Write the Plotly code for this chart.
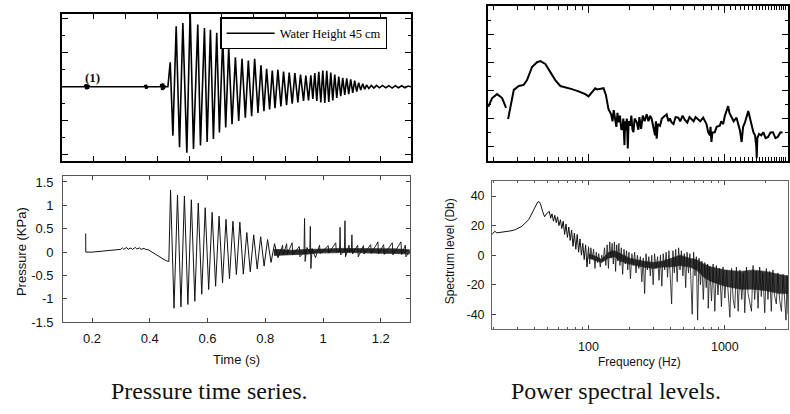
import plotly.graph_objects as go

# ---------------- DATA ----------------
# Top-left: scanned pressure record (time in its own units, amplitude in tick units)
tl_t = [0.0, 0.070, 0.073, 0.075, 0.077, 0.079, 0.081, 0.083, 0.085, 0.088,
        0.258, 0.261, 0.263, 0.265, 0.267, 0.270,
        0.308, 0.311, 0.313, 0.315, 0.317, 0.319, 0.321, 0.323, 0.326,
        0.3323, 0.3396, 0.348, 0.3583, 0.3688, 0.3792, 0.3917, 0.4021, 0.4125, 0.426,
        0.4344, 0.4469, 0.4552, 0.4656, 0.475, 0.4854, 0.4938, 0.5042, 0.5135, 0.5229,
        0.5333, 0.5438, 0.5542, 0.5646, 0.575, 0.5844, 0.5948, 0.6042, 0.6146, 0.624,
        0.6333, 0.6417, 0.651, 0.6594, 0.668, 0.6771, 0.6865, 0.6948, 0.7042, 0.7125,
        0.7219, 0.7302, 0.7396, 0.7479, 0.7573, 0.7646, 0.7729, 0.7802, 0.7865, 0.7927,
        0.799, 0.8052, 0.8115, 0.8177, 0.824, 0.8302, 0.8365, 0.8427, 0.849, 0.8552,
        0.8615, 0.8677, 0.874, 0.8802, 0.8865, 0.8927, 0.899, 0.9052, 0.9115, 0.9177,
        0.924, 0.9302, 0.9365, 0.9427, 0.949, 0.955, 0.962, 0.970, 0.978, 0.986,
        0.995, 1.005, 1.015, 1.025, 1.035, 1.045, 1.055, 1.065, 1.075, 1.085, 1.094]
tl_v = [0.0, 0.0, 0.06, -0.07, 0.08, -0.08, 0.07, -0.06, 0.04, 0.0,
        0.0, 0.05, -0.06, 0.06, -0.05, 0.0,
        0.0, 0.08, -0.09, 0.10, -0.10, 0.09, -0.07, 0.03, 0.0,
        0.0, 0.72, -1.44, 1.78, -1.78, 1.875, -1.94, 2.25, -1.83, 1.83,
        -1.73, 1.73, -1.63, 1.68, -1.54, 1.59, -1.35, 1.44, -1.20, 1.15,
        -1.10, 0.87, -1.01, 0.82, -0.91, 0.77, -0.87, 0.82, -0.77, 0.63,
        -0.72, 0.53, -0.67, 0.48, -0.63, 0.50, -0.58, 0.45, -0.54, 0.42,
        -0.50, 0.40, -0.46, 0.36, -0.42, 0.33, -0.40, 0.34, -0.36, 0.40,
        -0.42, 0.44, -0.46, 0.48, -0.48, 0.47, -0.45, 0.42, -0.40, 0.36,
        -0.33, 0.30, -0.28, 0.26, -0.24, 0.25, -0.22, 0.22, -0.18, 0.18,
        -0.14, 0.12, -0.10, 0.09, -0.07, 0.05, -0.05, 0.04, -0.04, 0.04,
        -0.03, 0.04, -0.03, 0.03, -0.04, 0.03, -0.03, 0.03, -0.03, 0.02, 0.0]
legend_label = "Water Height 45 cm"
marker_label = "(1)"

# Bottom-left: pressure time series (s, KPa)
bl_t = [0.178, 0.1785, 0.20, 0.22, 0.25, 0.28, 0.30, 0.305, 0.31, 0.32, 0.325, 0.335,
        0.34, 0.35, 0.355, 0.365, 0.37, 0.38, 0.385, 0.395, 0.40, 0.41, 0.42, 0.43,
        0.44, 0.45, 0.46, 0.466,
        0.472, 0.484, 0.496, 0.508, 0.520, 0.532, 0.544, 0.556, 0.568, 0.580,
        0.592, 0.604, 0.616, 0.628, 0.640, 0.652, 0.664, 0.676, 0.688, 0.700,
        0.712, 0.724, 0.736, 0.748, 0.760, 0.772, 0.784, 0.796, 0.808, 0.820,
        0.832, 0.844, 0.856]
bl_p = [0.40, 0.0, 0.0, 0.01, 0.03, 0.05, 0.06, 0.09, 0.06, 0.10, 0.06, 0.09,
        0.06, 0.10, 0.07, 0.09, 0.06, 0.08, 0.06, 0.05, 0.03, 0.0, -0.04, -0.08,
        -0.12, -0.16, -0.19, -0.20,
        1.33, -1.20, 1.22, -1.17, 1.20, -1.12, 1.12, -1.05, 1.05, -0.90,
        0.95, -0.80, 0.85, -0.73, 0.77, -0.66, 0.70, -0.57, 0.66, -0.48,
        0.64, -0.47, 0.42, -0.42, 0.37, -0.36, 0.33, -0.30, 0.27, -0.22,
        0.18, -0.12, 0.08]
# dense noise band after the decay (s, KPa)
bl_band_t = [0.83, 0.86, 0.89, 0.92, 0.95, 0.98, 1.02, 1.06, 1.10, 1.15, 1.20, 1.25, 1.30]
bl_band_hi = [0.06, 0.05, 0.04, 0.05, 0.06, 0.06, 0.07, 0.08, 0.08, 0.07, 0.07, 0.07, 0.05]
bl_band_lo = [-0.07, -0.06, -0.05, -0.05, -0.04, -0.02, -0.01, -0.01, -0.01, -0.02, -0.02, -0.03, -0.04]
# spikes in the tail (s, KPa)
bl_spk_t = [0.856, 0.860, 0.862, 0.874, 0.876, 0.893, 0.895, 0.918, 0.920, 0.934, 0.936,
            0.938, 0.944, 0.954, 0.956, 0.958, 0.962, 0.974, 0.988, 0.990, 1.018, 1.020,
            1.044, 1.046, 1.057, 1.059, 1.061, 1.074, 1.076, 1.078, 1.090, 1.092, 1.098,
            1.100, 1.102, 1.120, 1.122, 1.140, 1.142, 1.165, 1.167, 1.190, 1.192, 1.210,
            1.212, 1.240, 1.242, 1.270, 1.272, 1.285, 1.287, 1.300]
bl_spk_p = [0.06, 0.15, -0.06, 0.18, -0.05, 0.20, -0.06, 0.12, -0.10, 0.00, 0.72,
            -0.20, 0.10, 0.00, 0.55, -0.35, 0.08, -0.12, 0.15, -0.03, 0.14, -0.02,
            0.20, 0.00, 0.02, 0.53, -0.06, 0.03, 0.67, -0.10, 0.15, 0.00, 0.03,
            0.37, -0.04, 0.15, -0.10, 0.14, -0.04, 0.16, -0.03, 0.22, -0.04, 0.16,
            -0.05, 0.20, -0.06, 0.22, -0.05, 0.15, -0.10, 0.03]

# Top-right: smoothed spectrum (Hz, level in tick units); None = gap in curve
tr_f = [18.35, 19.63, 21.35, 23.23, 24.84, None,
        25.7, 26.7, 28.3, 30.8, 33.4, 35.4, 38.5, 41.9, 44.3, 48.2, 52.4, 57.0, 62.1, 67.5,
        75.5, 84.5, 94.5, 100, 105.8, 111.9, 116, 121.7, 128.8, 133.9, 140.1, 146.5,
        150, 153, 156.6, 160, 163, 165.8, 170, 174, 177.3, 180, 183.4, 185.5, 187.6, 191,
        194.0, 197, 201.8, 206, 210, 213.5, 218, 225.9, 232, 236, 243, 250, 258, 267, 275,
        283, 290.6, 298, 307.4, 312, 316, 322, 334.6, 345, 360, 374, 385, 395, 406.6, 420,
        435, 455, 470, 490, 509, 530, 550, 570, 590, 610, 637, 660, 693, 715, 733, 755,
        775, 785, 797, 810, 843, 870, 917, 940, 971, 1000, 1030, 1057, 1080, 1118, 1160,
        1217, 1260, 1290, 1327, 1360, 1404, 1440, 1485, 1530, 1573, 1620, 1664, 1700,
        1712, 1730, 1782, 1850, 1913, 1990, 2075, 2160, 2251, 2350, 2442, 2550, 2650]
tr_v = [-25.8, -22.7, -21.3, -22.7, -26.2, None,
        -30.2, -25.6, -19.8, -18.4, -18.0, -16.3, -11.6, -9.9, -9.5, -10.5, -13.4, -16.3,
        -18.4, -18.8, -19.5, -20.3, -21.3, -22.1, -20.7, -19.2, -19.6, -19.5, -19.2, -21.5,
        -26.7, -28.5,
        -31, -27, -29.7, -33, -28, -31.4, -29, -34, -33.7, -30, -39.5, -31, -34.3, -30,
        -40.7, -31, -32.6, -29, -34, -34.9, -30, -31.4, -34, -29.5, -33.7, -29, -31, -28.5,
        -31, -29, -30.2, -33, -36.0, -31, -37.2, -32, -32.6, -30, -29, -28.5, -31, -30,
        -31.4, -32, -29.5, -29.7, -31, -29, -30.5, -31.5, -29.5, -30.2, -31, -29.5, -30.2,
        -31, -29.7, -31, -32.0, -35, -36.0, -33, -38.4, -35, -34.9, -33, -32.6, -31, -32.0,
        -29, -27, -25.6, -28, -29.7, -31, -29.7, -32, -34.3, -38.4, -33, -31.4, -29, -27.3,
        -30, -32.6, -35, -36.0, -40, -44.2, -37, -35.5, -36, -34.9, -37, -36.6, -35, -34.9,
        -37, -36.6, -35, -34.9]

# Bottom-right: spectrum level (Hz, Db)
br_f = [19.6, 20.5, 21.3, 24.5, 27.0, 29.1, 32.5, 36.4, 39.6, 42.4, 43.5, 44.3, 46.1,
        47.6, 49.5, 51.6, 52.8, 54.0, 55.3, 56.6, 58.0, 59.3, 60.7, 62.2, 63.7, 65.2,
        66.8, 68.4, 70.0, 71.7, 73.4, 75.2, 77.0, 78.8, 80.7, 82.6, 84.6, 86.6, 88.7,
        90.8, 93.0, 95.2, 97.5, 100]
br_db = [14.0, 16.2, 15.1, 15.8, 16.5, 17.3, 19.6, 24.0, 30.7, 36.0, 36.2, 35.1, 29.6,
         26.0, 28.4, 29.6, 25.0, 28.0, 23.0, 27.0, 22.0, 26.0, 20.0, 24.0, 18.0, 23.0,
         14.0, 21.0, 12.0, 19.0, 10.0, 17.0, 6.0, 15.0, 4.0, 14.0, 2.0, 11.0, 0.0,
         8.0, -3.0, 7.0, -8.0, 5.0]
# dense core of the noisy part (Hz, upper and lower Db)
br_band_f = [100, 115, 125, 140, 155, 170, 200, 250, 300, 350, 400, 470, 550, 620, 700,
             800, 1000, 1300, 1600, 2000, 2500, 2904]
br_band_hi = [1, -1, -3, 2, 3, 1, -2, -4, -5, -4, -2, 0, -2, -3, -6, -8, -10, -11, -10, -11, -13, -14]
br_band_lo = [-2, -4, -5, -2, -1, -4, -6, -8, -9, -8, -8, -7, -8, -10, -15, -18, -21, -23,
              -23, -24, -26, -26]
# individual spikes of the noisy part (Hz, Db)
br_spk_f = [100, 102, 104, 106.5, 109, 111.5, 114, 116.5, 119, 122, 125, 128, 131, 134,
            137, 140, 143, 146, 149, 152, 155, 158, 161, 164, 167, 170, 174, 178, 182, 186,
            190, 194, 198, 203, 208, 213, 218, 223, 228, 234, 240, 246, 252, 258, 264, 270,
            277, 284, 291, 298, 305, 313, 321, 329, 337, 345, 353, 362, 371, 380, 389, 398,
            407, 416, 426, 436, 447, 458, 469, 480, 492, 504, 516, 528, 541, 554, 567, 576,
            590, 604, 618, 631, 646, 662, 678, 695, 712, 730, 748, 755, 775, 798, 820, 844,
            866, 890, 915, 944, 970, 1000, 1030, 1060, 1088, 1120, 1150, 1181, 1215, 1252,
            1290, 1330, 1370, 1399, 1440, 1480, 1520, 1567, 1610, 1655, 1700, 1752, 1800,
            1850, 1900, 1960, 2015, 2070, 2130, 2191, 2250, 2310, 2383, 2450, 2520, 2600,
            2670, 2740, 2809, 2860, 2904]
br_spk_db = [6, -6, 5, -2, 4, -9, 2, -5, 1, -8, 0, -4, 5, -7,
             7, -9, 9, -2, 8, -6, 9, -11, 7, -4, 8, -7, 5, -13, 4, -6,
             3, -10, 2, -16, 1, -7, 2, -12, 0, -9, -1, -18, -2, -26, 1, -10,
             -1, -14, 0, -20, 1, -9, -1, -17, 0, -21, 1, -10, 2, -15, 3, -22,
             -33, 3, -12, 4, -18, 5, -10, 3, -14, 1, -22, 2, -12, 1, -18, -40,
             2, -14, -1, -44, -2, -20, -4, -30, -5, -22, -6, -36, -8, -31, -6, -38,
             -7, -27, -9, -35, -8, -29, -10, -27, -42, -9, -30, -36, -8, -38,
             -10, -30, -12, -39, -8, -26, -32, -38, -7, -30, -11, -36, -8,
             -28, -12, -39, -9, -30, -11, -38, -10, -27, -33, -12, -30, -38,
             -13, -28, -44, -14, -40]

bl_xticks = [0.2, 0.4, 0.6, 0.8, 1.0, 1.2]
bl_xtext = ["0.2", "0.4", "0.6", "0.8", "1", "1.2"]
bl_yticks = [-1.5, -1.0, -0.5, 0.0, 0.5, 1.0, 1.5]
bl_ytext = ["-1.5", "-1", "-0.5", "0", "0.5", "1", "1.5"]
br_xticks = [100, 1000]
br_xtext = ["100", "1000"]
br_yticks = [-40, -20, 0, 20, 40]
br_ytext = ["-40", "-20", "0", "20", "40"]
log_minor = [20, 30, 40, 50, 60, 70, 80, 90, 200, 300, 400, 500, 600, 700, 800, 900, 2000]
tr_minor = [20, 30, 40, 50, 60, 70, 80, 90, 200, 300, 400, 500, 600, 700, 800, 900,
            1100, 1200, 1300, 1400, 1500, 1600, 1700, 1800, 1900, 2000, 2100, 2200,
            2300, 2400, 2500, 2600, 2700, 2800]

# ---------------- FIGURE ----------------
W, H = 790, 414
def fx(p):
    return p / W
def fy(p):
    return 1 - p / H

SANS = "Liberation Sans, Arial, sans-serif"
SERIF = "Liberation Serif, Times New Roman, serif"
INK = "#111111"

fig = go.Figure()

fig.add_trace(go.Scatter(x=tl_t, y=tl_v, xaxis="x", yaxis="y", mode="lines",
                         line=dict(color="black", width=1.6), name=legend_label,
                         showlegend=True))

fig.add_trace(go.Scatter(x=bl_band_t + bl_band_t[::-1], y=bl_band_hi + bl_band_lo[::-1],
                         xaxis="x2", yaxis="y2", mode="lines", fill="toself",
                         fillcolor="#2a2a2a", line=dict(color="#333", width=0.8),
                         showlegend=False, hoverinfo="skip"))
fig.add_trace(go.Scatter(x=bl_t, y=bl_p, xaxis="x2", yaxis="y2", mode="lines",
                         line=dict(color=INK, width=1), showlegend=False))
fig.add_trace(go.Scatter(x=bl_spk_t, y=bl_spk_p, xaxis="x2", yaxis="y2", mode="lines",
                         line=dict(color=INK, width=0.9), showlegend=False))

fig.add_trace(go.Scatter(x=tr_f, y=tr_v, xaxis="x3", yaxis="y3", mode="lines",
                         line=dict(color="black", width=2), connectgaps=False,
                         showlegend=False))

fig.add_trace(go.Scatter(x=br_band_f + br_band_f[::-1], y=br_band_hi + br_band_lo[::-1],
                         xaxis="x4", yaxis="y4", mode="lines", fill="toself",
                         fillcolor="#3a3a3a", line=dict(color="#3a3a3a", width=0.6),
                         showlegend=False, hoverinfo="skip"))
fig.add_trace(go.Scatter(x=br_f, y=br_db, xaxis="x4", yaxis="y4", mode="lines",
                         line=dict(color=INK, width=1), showlegend=False))
fig.add_trace(go.Scatter(x=br_spk_f, y=br_spk_db, xaxis="x4", yaxis="y4", mode="lines",
                         line=dict(color=INK, width=0.8), showlegend=False))

common = dict(showgrid=False, zeroline=False, showline=True, ticks="inside")

fig.update_layout(
    width=W, height=H, margin=dict(l=0, r=0, t=0, b=0),
    paper_bgcolor="white", plot_bgcolor="white",
    showlegend=True,
    legend=dict(x=fx(221), y=fy(15.7), xanchor="left", yanchor="top",
                bordercolor="black", borderwidth=1.2, bgcolor="white",
                font=dict(family=SERIF, size=12.5, color="black"),
                itemwidth=48),
    # top-left
    xaxis=dict(domain=[fx(62), fx(412)], anchor="y", range=[0, 1.094], tick0=0, dtick=0.1,
               ticklen=5, tickwidth=1.3, tickcolor="black", linecolor="black", linewidth=1.6,
               mirror="ticks", showticklabels=False, **common),
    yaxis=dict(domain=[fy(162.3), fy(12)], anchor="x", range=[-2.18, 2.15], tick0=0, dtick=1,
               ticklen=6, tickwidth=1.3, tickcolor="black", linecolor="black", linewidth=1.6,
               mirror="ticks", showticklabels=False,
               minor=dict(dtick=0.5, ticklen=3, ticks="inside", tickcolor="black", tickwidth=1.2),
               **common),
    # bottom-left
    xaxis2=dict(domain=[fx(63.3), fx(410.7)], anchor="y2", range=[0.1, 1.3],
                tickmode="array", tickvals=bl_xticks, ticktext=bl_xtext,
                ticklen=4, tickcolor="#444", linecolor="#555", linewidth=1, mirror="ticks",
                ticklabelstandoff=4,
                tickfont=dict(family=SANS, size=13, color=INK), **common),
    yaxis2=dict(domain=[fy(327.5), fy(178.3)], anchor="x2", range=[-1.502, 1.619],
                tickmode="array", tickvals=bl_yticks, ticktext=bl_ytext,
                ticklen=4, tickcolor="#444", linecolor="#555", linewidth=1, mirror="ticks",
                ticklabelstandoff=6,
                tickfont=dict(family=SANS, size=13, color=INK), **common),
    # top-right
    xaxis3=dict(domain=[fx(489.3), 1.0], anchor="y3", type="log", range=[1.263, 3.463],
                tickmode="array", tickvals=br_xticks, ticklen=7, tickwidth=1.3,
                tickcolor="black", linecolor="black", linewidth=1.6, mirror="ticks",
                showticklabels=False,
                minor=dict(tickmode="array", tickvals=tr_minor, ticklen=3.5, ticks="inside",
                           tickcolor="black", tickwidth=1.2),
                **common),
    yaxis3=dict(domain=[fy(162.3), fy(4.3)], anchor="x3", range=[-45.1, 10.1], tick0=0,
                dtick=10, ticklen=6, tickwidth=1.3, tickcolor="black", linecolor="black",
                linewidth=1.6, mirror="ticks", showticklabels=False,
                minor=dict(dtick=5, ticklen=3, ticks="inside", tickcolor="black", tickwidth=1.2),
                **common),
    # bottom-right
    xaxis4=dict(domain=[fx(493.3), 1.0], anchor="y4", type="log", range=[1.2926, 3.463],
                tickmode="array", tickvals=br_xticks, ticktext=br_xtext,
                ticklen=4, tickcolor="#444", linecolor="#666", linewidth=1, mirror="ticks",
                ticklabelstandoff=6,
                minor=dict(tickmode="array", tickvals=log_minor, ticklen=2, ticks="inside",
                           tickcolor="#555"),
                tickfont=dict(family=SANS, size=12.5, color=INK), **common),
    yaxis4=dict(domain=[fy(334.3), fy(183.3)], anchor="x4", range=[-50, 50],
                tickmode="array", tickvals=br_yticks, ticktext=br_ytext,
                ticklen=4, tickcolor="#444", linecolor="#666", linewidth=1, mirror=True,
                ticklabelstandoff=4,
                tickfont=dict(family=SANS, size=12.5, color=INK), **common),
)

def ann(text, x, y, size, family=SANS, angle=0, bold=False):
    t = "<b>%s</b>" % text if bold else text
    fig.add_annotation(text=t, x=fx(x), y=fy(y), xref="paper", yref="paper",
                       showarrow=False, xanchor="center", yanchor="middle",
                       textangle=angle, font=dict(family=family, size=size, color=INK))

ann("Pressure (KPa)", 21.7, 255, 13, angle=-90)
ann("Time (s)", 237, 365.7, 13)
ann("Spectrum level (Db)", 452, 255, 12, angle=-90)
ann("Frequency (Hz)", 641, 368, 12)
ann("Pressure time series.", 210.5, 397.5, 24, family=SERIF)
ann("Power spectral levels.", 618, 397.5, 24, family=SERIF)
ann(marker_label, 92.5, 76.7, 13, family=SERIF, bold=True)

fig.write_html("out.html", config={"displayModeBar": False},
               post_script="document.body.style.margin='0';document.body.style.overflow='hidden';")
